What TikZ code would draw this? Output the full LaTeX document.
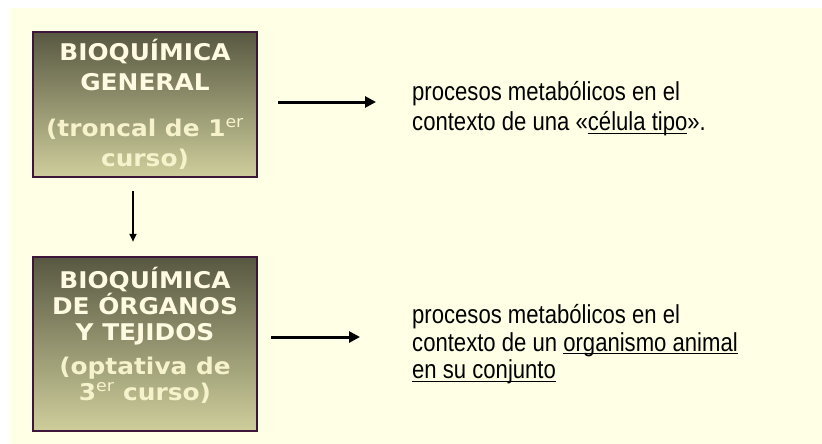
\documentclass[tikz,border=0pt]{standalone}
\usepackage{fontspec}
\setmainfont{Liberation Sans}[FakeStretch=0.85]
\newfontfamily\boxfont[FakeStretch=1.08]{DejaVu Sans}
\usetikzlibrary{arrows.meta}

\definecolor{fondo}{RGB}{255,255,229}
\definecolor{olivaosc}{RGB}{88,88,66}
\definecolor{olivacla}{RGB}{206,206,156}
\definecolor{borde}{RGB}{61,22,58}
\definecolor{crema}{RGB}{255,251,226}
\definecolor{cremapar}{RGB}{246,242,204}

\newcommand{\subr}[1]{\leavevmode\setbox0\hbox{#1}\rlap{\rule[-3pt]{\wd0}{1.1pt}}\box0}

\tikzset{
    curso/.style={draw=borde,line width=2.5pt,top color=olivaosc,bottom color=olivacla,
        minimum width=224pt,inner sep=0pt,align=center,text=crema,
        font=\boxfont\bfseries\fontsize{23}{27.5}\selectfont},
    desc/.style={anchor=west,inner sep=0pt,align=left,font=\fontsize{26}{29}\selectfont},
    flecha/.style={line width=3pt,-{Triangle[length=11pt,width=11pt]}},
    bajada/.style={line width=2pt,-{Triangle[length=8pt,width=7pt]}}
}

\begin{document}
\begin{tikzpicture}[x=1pt,y=-1pt]
            \useasboundingbox (0,0) rectangle (822,444);
            \fill[fondo] (10,8) rectangle (822,444);

            \node[curso,minimum height=145pt,font=\boxfont\bfseries\fontsize{23}{30}\selectfont] (bqgen) at (145,104.5)
                {BIOQUÍMICA\\GENERAL\\[16pt]
                 {\color{cremapar}(troncal de 1\textsuperscript{\mdseries er}}\\
                 {\color{cremapar}curso)}};
            \node[curso,minimum height=174pt,font=\boxfont\bfseries\fontsize{23}{26}\selectfont] (bqorg) at (145,344)
                {BIOQUÍMICA\\DE ÓRGANOS\\Y TEJIDOS\\[8pt]
                 {\color{cremapar}(optativa de}\\
                 {\color{cremapar}3\textsuperscript{\mdseries er} curso)}\\[-6pt]\rule{0pt}{0pt}};

            \node[desc,font=\fontsize{26}{30}\selectfont] (descgen) at (412,109)
                {procesos metabólicos en el\\contexto de una «\subr{célula tipo}».};
            \node[desc,font=\fontsize{26}{27.5}\selectfont] (descorg) at (412,344.5)
                {procesos metabólicos en el\\contexto de un \subr{organismo animal}\\\subr{en su conjunto}};

            \draw[bajada] ([xshift=-12pt,yshift=-13pt]bqgen.south) -- ([xshift=-12pt,yshift=14pt]bqorg.north);
            \draw[flecha] ([xshift=20pt,yshift=2.5pt]bqgen.east) -- ([xshift=-36pt,yshift=7pt]descgen.west);
            \draw[flecha] ([xshift=13pt,yshift=7pt]bqorg.east) -- ([xshift=-52pt,yshift=7.5pt]descorg.west);
        \end{tikzpicture}
\end{document}
